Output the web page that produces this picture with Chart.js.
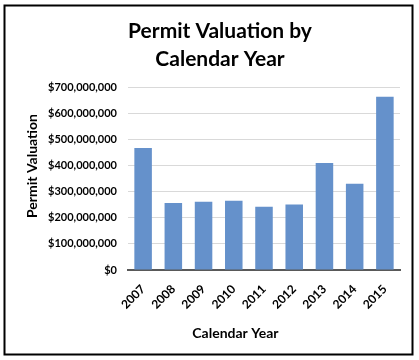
<!DOCTYPE html>
<html>
<head>
<meta charset="utf-8">
<script src="https://cdn.jsdelivr.net/npm/chart.js@4/dist/chart.umd.min.js"></script>
<style>
html,body{margin:0;padding:0;background:#fff;}
#wrap{width:419px;height:360px;position:relative;}
</style>
</head>
<body>
<div id="wrap"><canvas id="c" width="419" height="360"></canvas></div>
<script>
const categories = ['2007','2008','2009','2010','2011','2012','2013','2014','2015'];
const valuations = [468000000, 257000000, 262000000, 266000000, 243000000, 251000000, 411000000, 331000000, 665000000];
const yTickValues = [0, 100000000, 200000000, 300000000, 400000000, 500000000, 600000000, 700000000];
const titleLines = ['Permit Valuation by', 'Calendar Year'];
const xAxisTitle = 'Calendar Year';
const yAxisTitle = 'Permit Valuation';

const FONT = 'Lato, "Open Sans", sans-serif';

const extras = {
  id: 'extras',
  afterDraw(chart) {
    const ctx = chart.ctx;
    const area = chart.chartArea;
    ctx.save();
    ctx.fillStyle = '#000';
    ctx.font = 'bold 14px ' + FONT;
    ctx.textAlign = 'center';
    ctx.textBaseline = 'middle';
    ctx.fillText(xAxisTitle, area.left + (area.right - area.left) * 0.395, 333);
    ctx.save();
    ctx.translate(32, area.top + (area.bottom - area.top) * 0.43);
    ctx.rotate(-Math.PI / 2);
    ctx.fillText(yAxisTitle, 0, 0);
    ctx.restore();
    ctx.strokeStyle = '#000';
    ctx.lineWidth = 2;
    ctx.strokeRect(4.5, 5.5, 408, 349);
    ctx.restore();
  }
};

new Chart(document.getElementById('c'), {
  type: 'bar',
  data: {
    labels: categories,
    datasets: [{
      data: valuations,
      backgroundColor: '#6591cb',
      borderWidth: 0,
      barPercentage: 0.58,
      categoryPercentage: 1.0
    }]
  },
  options: {
    responsive: false,
    animation: false,
    layout: { padding: { top: 5, left: 40, right: 19, bottom: 10 } },
    plugins: {
      legend: { display: false },
      tooltip: { enabled: false },
      title: {
        display: true,
        text: titleLines,
        color: '#000',
        font: { family: FONT, size: 21, weight: 'bold', lineHeight: 1.3 },
        padding: { top: 13, bottom: 15 }
      }
    },
    scales: {
      x: {
        grid: { display: false, drawTicks: false },
        border: { display: true, color: '#595959', width: 2 },
        ticks: {
          color: '#000',
          font: { family: FONT, size: 12, weight: 'bold' },
          maxRotation: 45, minRotation: 45,
          padding: 12
        },
        afterFit(scale) { scale.height = 80; }
      },
      y: {
        min: 0,
        max: 700000000,
        afterBuildTicks(scale) { scale.ticks = yTickValues.map(v => ({ value: v })); },
        grid: { color: '#d9d9d9', lineWidth: 1, drawTicks: false },
        border: { display: false },
        ticks: {
          color: '#000',
          padding: 11,
          font: { family: FONT, size: 11, weight: 'bold' },
          callback: (v) => '$' + Number(v).toLocaleString('en-US')
        },
        afterFit(scale) { scale.width = 88; }
      }
    }
  },
  plugins: [extras]
});
</script>
</body>
</html>
